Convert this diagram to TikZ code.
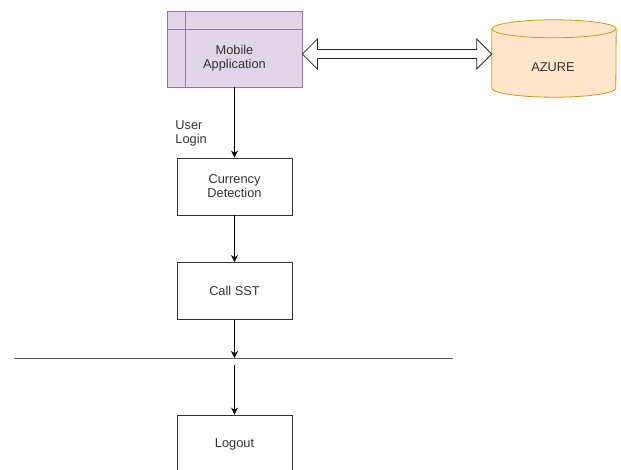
\documentclass[tikz,border=0pt]{standalone}
\usepackage{fontspec}
\setmainfont{Liberation Sans}
\usetikzlibrary{arrows.meta,positioning,calc,shapes.geometric}
\definecolor{applilac}{RGB}{225,213,231}
\definecolor{appborder}{RGB}{150,115,166}
\definecolor{dbpeach}{RGB}{255,230,204}
\definecolor{dborange}{RGB}{215,155,0}
\definecolor{textgray}{RGB}{51,51,51}
\definecolor{linegray}{RGB}{90,90,90}

\begin{document}
\begin{tikzpicture}[x=1pt, y=-1pt, font=\fontsize{12.8}{14}\selectfont,
    block/.style={rectangle, draw=black!80, fill=white, minimum width=115pt,
                  minimum height=57pt, text=textgray, align=center, line width=0.8pt},
    flow/.style={-{Stealth[length=7pt,width=7pt]}, line width=0.8pt}]
\clip (0,0) rectangle (621,470);

\node[block, fill=applilac, draw=appborder, minimum width=135pt, minimum height=76pt] (app) at (234.5,49) {};
\draw[appborder, line width=0.8pt] ($(app.north west)+(19,0)$) -- ($(app.south west)+(19,0)$);
\draw[appborder, line width=0.8pt] ($(app.north west)+(0,19)$) -- ($(app.north east)+(0,19)$);
\node[text=textgray, align=center] (apptext) at ($(app.center)+(0,9.5)$) {Mobile\\Application};

% cloud store drawn as a cylinder
\node[rectangle, minimum width=124pt, minimum height=77pt, inner sep=0pt] (azure) at (554,58.5) {};
\coordinate (azTL) at ($(azure.north west)+(0,9)$);
\coordinate (azTR) at ($(azure.north east)+(0,9)$);
\coordinate (azBL) at ($(azure.south west)+(0,-9)$);
\draw[dborange, fill=dbpeach, line width=0.8pt] (azTL) -- (azBL)
    arc[start angle=180, end angle=0, x radius=62, y radius=9] -- (azTR)
    arc[start angle=0, end angle=-180, x radius=62, y radius=9] -- cycle;
\draw[dborange, line width=0.8pt] (azTL) arc[start angle=180, end angle=0, x radius=62, y radius=9];
\node[text=textgray] (azuretext) at (553,67) {AZURE};

\node[block] (cur) at (234.5,186.5) {Currency\\Detection};
\node[block] (call) at (234.5,291) {Call SST};
\node[block, minimum height=58pt] (logout) at (234.5,444) {Logout};

\coordinate (barL) at (14,358);
\coordinate (barR) at (453,358);
\coordinate (barout) at (234.5,365);

% two-way link to the cloud
\coordinate (dl) at ($(app.east)+(0,5)$);
\coordinate (dr) at (azure.west |- dl);
\draw[line width=0.8pt, draw=black!85, fill=white] (dl) -- ++(15,-15) -- ++(0,10.5) -- ($(dr)+(-15,-4.5)$)
    -- ++(0,-10.5) -- (dr) -- ++(-15,15) -- ++(0,-10.5) -- ($(dl)+(15,4.5)$) -- ++(0,10.5) -- cycle;

\draw[flow] (app) -- (cur) node[pos=0.65, left=24pt, align=left, text=textgray] {User\\Login};
\draw[flow] (cur) -- (call);
\draw[linegray, line width=0.8pt] (barL) -- (barR);
\draw[flow] (call) -- (call.south |- barL);
\draw[flow] (barout) -- (logout);
\end{tikzpicture}
\end{document}
